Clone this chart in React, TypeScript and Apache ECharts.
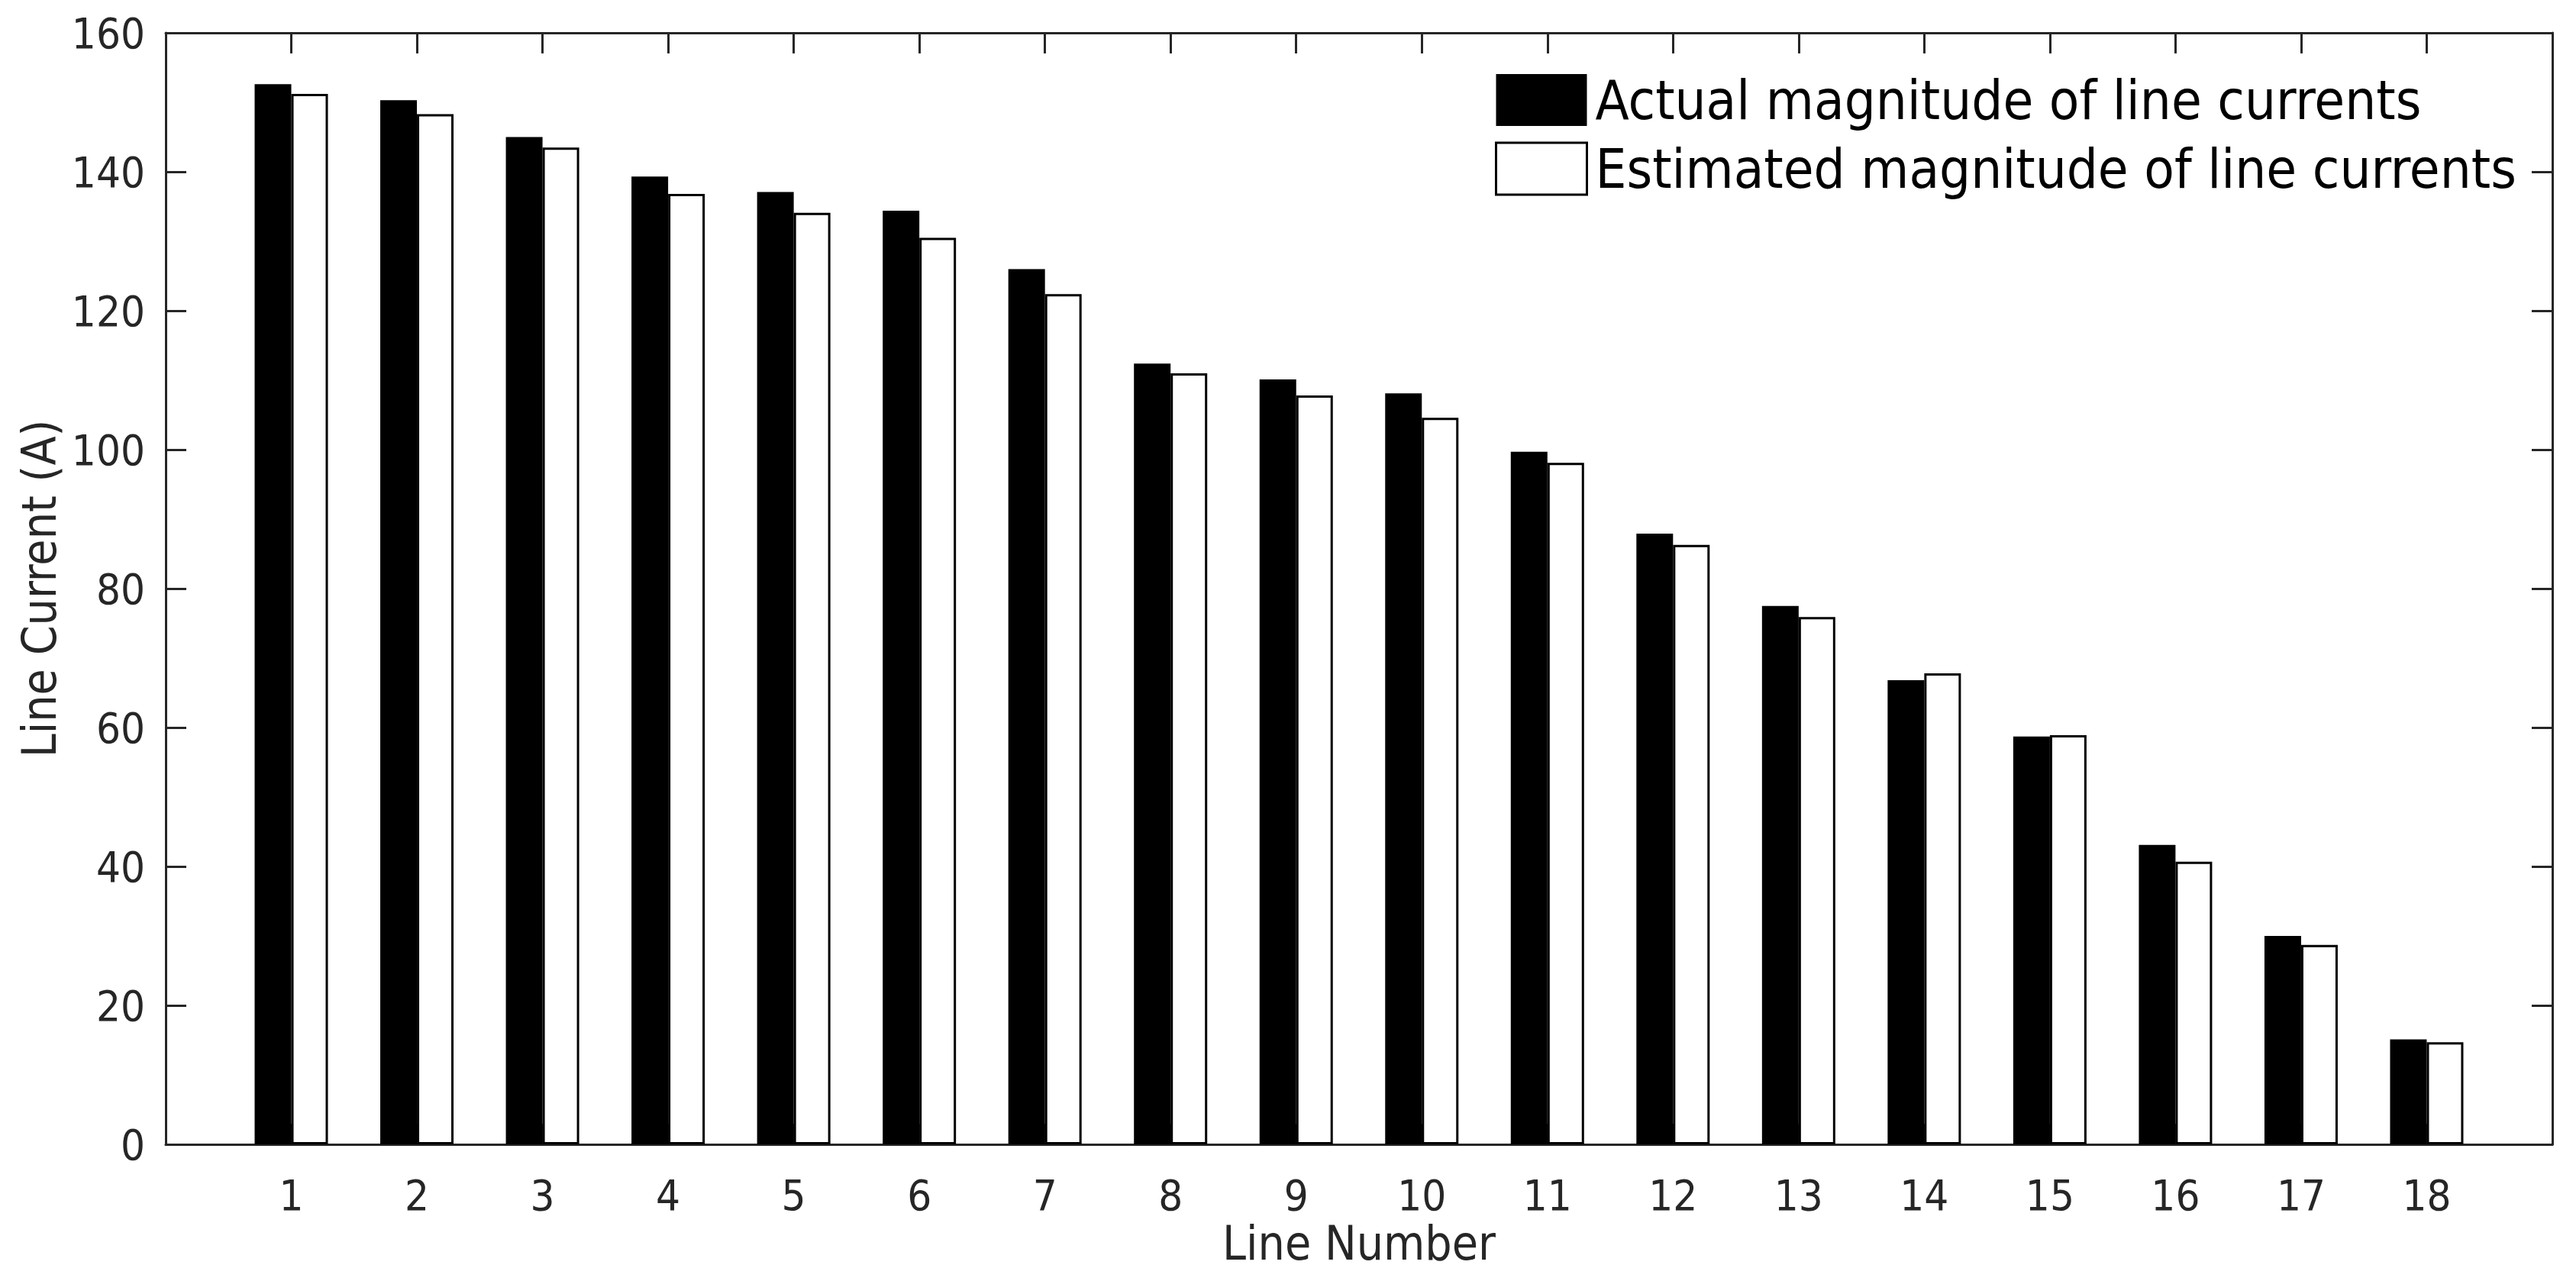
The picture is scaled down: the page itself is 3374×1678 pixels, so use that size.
// Bar chart: actual vs estimated magnitude of line currents
import { useEffect, useRef } from "react";
import * as echarts from "echarts";

const lineNumbers = [1, 2, 3, 4, 5, 6, 7, 8, 9, 10, 11, 12, 13, 14, 15, 16, 17, 18];
const actualCurrent = [
  152.6, 150.3, 145.0, 139.3, 137.1, 134.4, 126.0, 112.4, 110.1,
  108.1, 99.7, 87.9, 77.5, 66.8, 58.7, 43.1, 30.0, 15.1,
];
const estimatedCurrent = [
  151.2, 148.3, 143.5, 136.8, 134.1, 130.5, 122.4, 111.0, 107.8,
  104.6, 98.1, 86.3, 75.9, 67.8, 58.9, 40.7, 28.7, 14.7,
];
const seriesNames = ["Actual magnitude of line currents", "Estimated magnitude of line currents"];
const yTicks = { min: 0, max: 160, step: 20 };
const xRange = { min: 0, max: 19 };

const FONT = "'Liberation Sans Narrow', 'DejaVu Sans Condensed', sans-serif";
const AXIS = "#262626";

export default function App() {
  const ref = useRef<HTMLDivElement>(null);

  useEffect(() => {
    document.body.style.margin = "0";
    if (!ref.current) return;
    const chart = echarts.init(ref.current, null, { renderer: "svg" });

    const boxAxis = {
      axisLine: { show: true, onZero: false, lineStyle: { color: AXIS, width: 3 } },
      axisTick: { show: true, inside: true, length: 27, lineStyle: { color: AXIS, width: 3 } },
      splitLine: { show: false },
    };

    chart.setOption({
      animation: false,
      backgroundColor: "#fff",
      textStyle: { fontFamily: FONT },
      grid: { left: 217, right: 31, top: 43, bottom: 179 },
      legend: {
        orient: "vertical",
        left: 1958,
        top: 95,
        padding: 0,
        itemWidth: 119,
        itemHeight: 68,
        itemGap: 18,
        selectedMode: false,
        textStyle: { fontFamily: FONT, fontSize: 72, color: "#000", padding: [0, 0, 0, 6] },
        data: [
          { name: seriesNames[0], icon: "rect", itemStyle: { color: "#000", borderColor: "#000", borderWidth: 0 } },
          { name: seriesNames[1], icon: "rect", itemStyle: { color: "#fff", borderColor: "#000", borderWidth: 3 } },
        ],
      },
      xAxis: [
        {
          type: "value",
          position: "bottom",
          min: xRange.min,
          max: xRange.max,
          interval: 1,
          ...boxAxis,
          axisLabel: {
            fontFamily: FONT,
            fontSize: 56,
            color: AXIS,
            margin: 38,
            formatter: (v: number) => (lineNumbers.includes(v) ? String(v) : ""),
          },
          name: "Line Number",
          nameLocation: "middle",
          nameGap: 92,
          nameTextStyle: { fontFamily: FONT, fontSize: 62, color: AXIS },
        },
        {
          type: "value",
          position: "top",
          min: xRange.min,
          max: xRange.max,
          interval: 1,
          ...boxAxis,
          axisLabel: { show: false },
        },
      ],
      yAxis: [
        {
          type: "value",
          position: "left",
          min: yTicks.min,
          max: yTicks.max,
          interval: yTicks.step,
          ...boxAxis,
          axisLabel: { fontFamily: FONT, fontSize: 56, color: AXIS, margin: 27 },
          name: "Line Current (A)",
          nameLocation: "middle",
          nameGap: 127,
          nameTextStyle: { fontFamily: FONT, fontSize: 62, color: AXIS },
        },
        {
          type: "value",
          position: "right",
          min: yTicks.min,
          max: yTicks.max,
          interval: yTicks.step,
          ...boxAxis,
          axisLabel: { show: false },
        },
      ],
      series: [
        {
          name: seriesNames[0],
          type: "bar",
          xAxisIndex: 0,
          yAxisIndex: 0,
          barWidth: 48,
          barGap: "0%",
          itemStyle: { color: "#000" },
          data: lineNumbers.map((n, i) => [n, actualCurrent[i]]),
        },
        {
          name: seriesNames[1],
          type: "bar",
          xAxisIndex: 0,
          yAxisIndex: 0,
          barWidth: 48,
          barGap: "0%",
          itemStyle: { color: "#fff", borderColor: "#000", borderWidth: 3 },
          data: lineNumbers.map((n, i) => [n, estimatedCurrent[i]]),
        },
      ],
    });

    return () => chart.dispose();
  }, []);

  return <div ref={ref} style={{ width: 3374, height: 1678 }} />;
}
